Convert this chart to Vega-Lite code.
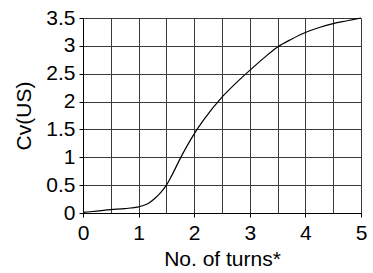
{
  "$schema": "https://vega.github.io/schema/vega-lite/v6.json",
  "autosize": "none",
  "width": 278,
  "height": 195,
  "padding": {"left": 83, "top": 18, "right": 12, "bottom": 60},
  "background": "white",
  "config": {
    "view": {"stroke": null},
    "font": "Liberation Sans",
    "axis": {
      "labelFont": "Liberation Sans",
      "titleFont": "Liberation Sans",
      "labelFontSize": 21,
      "titleFontSize": 21,
      "titleFontWeight": "normal",
      "labelColor": "black",
      "titleColor": "black",
      "domainColor": "black",
      "tickColor": "black",
      "gridColor": "#3a3a3a",
      "gridOpacity": 1,
      "gridWidth": 1
    }
  },
  "data": {
    "values": [
      {"turns": 0, "cv": 0.01},
      {"turns": 0.25, "cv": 0.035},
      {"turns": 0.5, "cv": 0.06},
      {"turns": 0.75, "cv": 0.08},
      {"turns": 1.0, "cv": 0.11},
      {"turns": 1.1, "cv": 0.14},
      {"turns": 1.2, "cv": 0.19},
      {"turns": 1.3, "cv": 0.27},
      {"turns": 1.4, "cv": 0.37},
      {"turns": 1.5, "cv": 0.5},
      {"turns": 1.6, "cv": 0.68},
      {"turns": 1.75, "cv": 0.98},
      {"turns": 2.0, "cv": 1.42},
      {"turns": 2.17, "cv": 1.67},
      {"turns": 2.5, "cv": 2.08},
      {"turns": 2.75, "cv": 2.33},
      {"turns": 3.0, "cv": 2.56},
      {"turns": 3.25, "cv": 2.78},
      {"turns": 3.5, "cv": 2.98},
      {"turns": 3.75, "cv": 3.12},
      {"turns": 4.0, "cv": 3.24},
      {"turns": 4.25, "cv": 3.33},
      {"turns": 4.5, "cv": 3.40},
      {"turns": 4.75, "cv": 3.45},
      {"turns": 5.0, "cv": 3.5}
    ]
  },
  "mark": {"type": "line", "color": "black", "strokeWidth": 1.2, "interpolate": "monotone"},
  "encoding": {
    "x": {
      "field": "turns",
      "type": "quantitative",
      "scale": {"domain": [0, 5], "nice": false, "zero": false},
      "axis": {
        "title": "No. of turns*",
        "values": [0, 0.5, 1, 1.5, 2, 2.5, 3, 3.5, 4, 4.5, 5],
        "labelExpr": "datum.value % 1 === 0 ? format(datum.value, 'd') : ''",
        "tickSize": 4,
        "tickOpacity": {"condition": {"test": "datum.value % 1 !== 0", "value": 0}, "value": 1},
        "labelPadding": 5,
        "titlePadding": 5,
        "labelFlush": false
      }
    },
    "y": {
      "field": "cv",
      "type": "quantitative",
      "scale": {"domain": [0, 3.5], "nice": false},
      "axis": {
        "title": "Cv(US)",
        "values": [0, 0.5, 1, 1.5, 2, 2.5, 3, 3.5],
        "labelExpr": "format(datum.value, '~g')",
        "tickSize": 4,
        "labelPadding": 4,
        "titlePadding": 11,
        "labelFlush": false
      }
    }
  }
}
